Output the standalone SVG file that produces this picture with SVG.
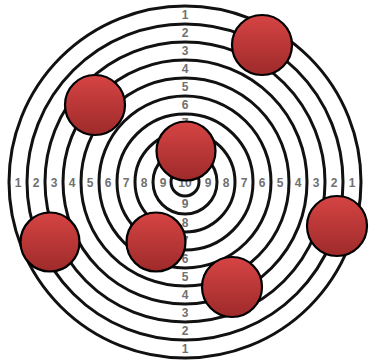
<svg xmlns="http://www.w3.org/2000/svg" width="370" height="361" viewBox="0 0 370 361">
<defs>
<linearGradient id="red" x1="0" y1="0" x2="0" y2="1">
<stop offset="0" stop-color="#d64444"/>
<stop offset="1" stop-color="#9e2a2a"/>
</linearGradient>
<style>
.ring{fill:none;stroke:#111;stroke-width:3}
.lbl{font-family:"Liberation Sans",Arial,sans-serif;font-size:12px;font-weight:bold;fill:#707070;text-anchor:middle;dominant-baseline:central}
.hole{fill:url(#red);stroke:#000;stroke-width:2.2}
</style>
</defs>
<rect width="370" height="361" fill="#fff"/>
<g id="target">
<circle class="ring" cx="185" cy="182" r="176"/>
<circle class="ring" cx="185" cy="182" r="158"/>
<circle class="ring" cx="185" cy="182" r="140"/>
<circle class="ring" cx="185" cy="182" r="122"/>
<circle class="ring" cx="185" cy="182" r="104"/>
<circle class="ring" cx="185" cy="182" r="86"/>
<circle class="ring" cx="185" cy="182" r="68"/>
<circle class="ring" cx="185" cy="182" r="50"/>
<circle class="ring" cx="185" cy="182" r="32"/>
<circle class="ring" cx="185" cy="182" r="14" stroke="#555"/>
</g>
<g id="labels">
<text class="lbl" x="185" y="183">10</text>
<text class="lbl" x="18" y="183">1</text><text class="lbl" x="36" y="183">2</text><text class="lbl" x="54" y="183">3</text><text class="lbl" x="72" y="183">4</text><text class="lbl" x="90" y="183">5</text><text class="lbl" x="108" y="183">6</text><text class="lbl" x="126" y="183">7</text><text class="lbl" x="144" y="183">8</text><text class="lbl" x="163" y="183">9</text>
<text class="lbl" x="352" y="183">1</text><text class="lbl" x="334" y="183">2</text><text class="lbl" x="316" y="183">3</text><text class="lbl" x="298" y="183">4</text><text class="lbl" x="280" y="183">5</text><text class="lbl" x="262" y="183">6</text><text class="lbl" x="244" y="183">7</text><text class="lbl" x="226" y="183">8</text><text class="lbl" x="208" y="183">9</text>
<text class="lbl" x="185" y="15">1</text><text class="lbl" x="185" y="33">2</text><text class="lbl" x="185" y="51">3</text><text class="lbl" x="185" y="69">4</text><text class="lbl" x="185" y="87">5</text><text class="lbl" x="185" y="105">6</text><text class="lbl" x="185" y="123">7</text><text class="lbl" x="185" y="141">8</text><text class="lbl" x="185" y="159">9</text>
<text class="lbl" x="185" y="349">1</text><text class="lbl" x="185" y="331">2</text><text class="lbl" x="185" y="313">3</text><text class="lbl" x="185" y="295">4</text><text class="lbl" x="185" y="277">5</text><text class="lbl" x="185" y="259">6</text><text class="lbl" x="185" y="241">7</text><text class="lbl" x="185" y="223">8</text><text class="lbl" x="185" y="204">9</text>
</g>
<g id="hole1"><circle class="hole" cx="262" cy="45" r="30"/></g>
<g id="hole2"><circle class="hole" cx="95" cy="105" r="30"/></g>
<g id="hole3"><circle class="hole" cx="186" cy="151" r="29.5"/></g>
<g id="hole4"><circle class="hole" cx="50" cy="242" r="29.5"/></g>
<g id="hole5"><circle class="hole" cx="156" cy="242" r="29.5"/></g>
<g id="hole6"><circle class="hole" cx="337" cy="226" r="30"/></g>
<g id="hole7"><circle class="hole" cx="232" cy="287" r="30"/></g>
</svg>
